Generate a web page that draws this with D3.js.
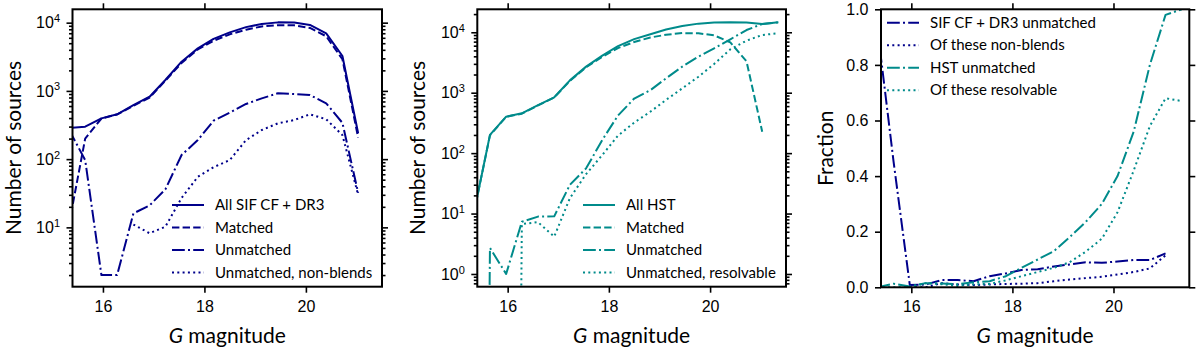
<!DOCTYPE html>
<html>
<head>
<meta charset="utf-8">
<script src="https://cdn.jsdelivr.net/npm/d3@7"></script>
<style>
  body { margin: 0; background: #fff; }
  svg { display: block; font-family: Lato, "Noto Sans", sans-serif; }
</style>
</head>
<body>
<script>
// G magnitude bin centres (shared by all three panels)
const gMag = [15.33, 15.65, 15.97, 16.28, 16.6, 16.92, 17.23, 17.55, 17.87, 18.18,
              18.5, 18.82, 19.13, 19.45, 19.77, 20.08, 20.4, 20.72, 21.03, 21.35];

// left panel: SIF CF + DR3 counts
const sifAll       = [285, 299, 396, 454, 621, 822, 1445, 2680, 4200, 5800, 7200, 8600, 9570, 10100, 10050, 9250, 6980, 3250, 239, null];
const sifMatched   = [11, 200, 394, 452, 605, 800, 1410, 2570, 4050, 5430, 6750, 7900, 8800, 9170, 9150, 8380, 6320, 2910, 207, null];
const sifUnmatched = [270, 97, 2, 2, 16, 21, 36, 115, 190, 366, 480, 643, 778, 923, 900, 870, 658, 340, 32, null];
const sifNonBlend  = [null, null, null, null, 11, 8.2, 10.2, 27, 55, 76, 97, 190, 267, 335, 374, 454, 384, 225, 30, null];

// middle panel: HST counts
const hstAll        = [10, 200, 401, 456, 625, 840, 1600, 2700, 4100, 5900, 7700, 9300, 11100, 12700, 13900, 14500, 14700, 14500, 13700, 14600];
const hstMatched    = [10, 197, 400, 449, 616, 831, 1570, 2640, 3930, 5480, 6900, 8200, 9100, 9700, 9600, 8900, 6800, 3300, 226, null];
const hstUnmatched  = [0, 2.7, 1.0, 7.3, 8.9, 9, 30, 56, 165, 420, 800, 1100, 1730, 2700, 3950, 5430, 7660, 10900, 13700, 14600];
const hstResolvable = [0, 0, 0, 6.7, 7.2, 4.15, 18, 45, 93, 195, 320, 485, 760, 1180, 1840, 2990, 5220, 7260, 9020, 9620];

// right panel: fractions
const fracSifUnmatched  = [0.93, 0.45, 0.008, 0.01, 0.026, 0.026, 0.022, 0.04, 0.05, 0.062, 0.065, 0.075, 0.082, 0.09, 0.088, 0.093, 0.098, 0.098, 0.122, null];
const fracSifNonBlend   = [null, null, 0, 0, 0.015, 0.01, 0.008, 0.01, 0.012, 0.013, 0.015, 0.022, 0.028, 0.033, 0.038, 0.046, 0.055, 0.068, 0.115, null];
const fracHstUnmatched  = [0, 0.013, 0.003, 0.015, 0.014, 0.011, 0.018, 0.022, 0.04, 0.07, 0.10, 0.13, 0.18, 0.235, 0.30, 0.40, 0.56, 0.80, 0.98, 1.0];
const fracHstResolvable = [0, 0, 0, 0.015, 0.011, 0.005, 0.011, 0.012, 0.025, 0.04, 0.055, 0.07, 0.09, 0.128, 0.175, 0.27, 0.42, 0.58, 0.68, 0.67];

const xTicks = [16, 18, 20];
const fracTicks = [0, 0.2, 0.4, 0.6, 0.8, 1.0];

const sifLabels  = ["All SIF CF + DR3", "Matched", "Unmatched", "Unmatched, non-blends"];
const hstLabels  = ["All HST", "Matched", "Unmatched", "Unmatched, resolvable"];
const fracLabels = ["SIF CF + DR3 unmatched", "Of these non-blends", "HST unmatched", "Of these resolvable"];

const width = 1200, height = 351;
const blue = "#00008b", teal = "#008b8b";
const dash = { solid: null, dashed: "7.4,3.2", dashdot: "12.8,3.2,2,3.2", dotted: "2,3.3" };

const svg = d3.select("body").append("svg")
  .attr("width", width)
  .attr("height", height);

const panels = [
  {
    id: "p1", left: 72.5, right: 382, top: 9.3, bottom: 286.7,
    log: true, yDomain: [1.35, 15700], ylabel: "Number of sources", ylabelX: 21,
    series: [
      { values: sifAll, color: blue, style: "solid" },
      { values: sifMatched, color: blue, style: "dashed" },
      { values: sifUnmatched, color: blue, style: "dashdot" },
      { values: sifNonBlend, color: blue, style: "dotted" }
    ],
    legend: { labels: sifLabels, x: 172, y: 205 }
  },
  {
    id: "p2", left: 477.3, right: 786, top: 9.3, bottom: 286.7,
    log: true, yDomain: [0.616, 24000], ylabel: "Number of sources", ylabelX: 424.5,
    series: [
      { values: hstAll, color: teal, style: "solid" },
      { values: hstMatched, color: teal, style: "dashed" },
      { values: hstUnmatched, color: teal, style: "dashdot" },
      { values: hstResolvable, color: teal, style: "dotted" }
    ],
    legend: { labels: hstLabels, x: 583, y: 205 }
  },
  {
    id: "p3", left: 881, right: 1189.3, top: 9.3, bottom: 287.3,
    log: false, yDomain: [0, 1], ylabel: "Fraction", ylabelX: 833,
    series: [
      { values: fracSifUnmatched, color: blue, style: "dashdot" },
      { values: fracSifNonBlend, color: blue, style: "dotted" },
      { values: fracHstUnmatched, color: teal, style: "dashdot" },
      { values: fracHstResolvable, color: teal, style: "dotted" }
    ],
    legend: { labels: fracLabels, x: 887, y: 22.7 }
  }
];

function styleAxis(g) {
  g.select(".domain").remove();
  g.selectAll(".tick line").attr("stroke", "#000").attr("stroke-width", 1.6);
  g.selectAll(".tick text").attr("fill", "#000").attr("font-size", 16);
}

function drawPanel(p) {
  const g = svg.append("g");
  const x = d3.scaleLinear().domain([15.4, 21.5]).range([p.left, p.right]);
  const y = (p.log ? d3.scaleLog() : d3.scaleLinear()).domain(p.yDomain).range([p.bottom, p.top]);

  // ticks: majors and (for log) minors
  let major, minor = [];
  if (p.log) {
    major = d3.range(-1, 6).map(k => 10 ** k).filter(v => v >= p.yDomain[0] && v <= p.yDomain[1]);
    d3.range(-1, 5).forEach(k => d3.range(2, 10).forEach(m => {
      const v = m * 10 ** k;
      if (v >= p.yDomain[0] && v <= p.yDomain[1]) minor.push(v);
    }));
  } else {
    major = fracTicks;
  }

  // x axes (bottom with labels, top ticks only)
  g.append("g")
    .attr("transform", `translate(0,${p.bottom})`)
    .call(d3.axisBottom(x).tickValues(xTicks).tickSize(6).tickPadding(7.5).tickFormat(d3.format("d")))
    .call(styleAxis);
  g.append("g")
    .attr("transform", `translate(0,${p.top})`)
    .call(d3.axisTop(x).tickValues(xTicks).tickSize(6).tickFormat(""))
    .call(styleAxis);

  // y axes, left labelled, right ticks only
  const yl = g.append("g")
    .attr("transform", `translate(${p.left},0)`)
    .call(d3.axisLeft(y).tickValues(major).tickSize(6).tickPadding(6.5)
      .tickFormat(p.log ? d => "" : d3.format(".1f")))
    .call(styleAxis);
  if (p.log) {
    yl.selectAll(".tick text").each(function(d) {
      const t = d3.select(this);
      t.text("10");
      t.append("tspan").attr("dy", "-0.55em").attr("font-size", 11).text(Math.round(Math.log10(d)));
    });
  }
  g.append("g")
    .attr("transform", `translate(${p.right},0)`)
    .call(d3.axisRight(y).tickValues(major).tickSize(6).tickFormat(""))
    .call(styleAxis);
  if (minor.length) {
    g.append("g")
      .attr("transform", `translate(${p.left},0)`)
      .call(d3.axisLeft(y).tickValues(minor).tickSize(3.5).tickFormat(""))
      .call(styleAxis);
    g.append("g")
      .attr("transform", `translate(${p.right},0)`)
      .call(d3.axisRight(y).tickValues(minor).tickSize(3.5).tickFormat(""))
      .call(styleAxis);
  }

  // clip lines to the frame
  svg.append("clipPath").attr("id", "clip-" + p.id)
    .append("rect")
    .attr("x", p.left).attr("y", p.top)
    .attr("width", p.right - p.left).attr("height", p.bottom - p.top);

  // zeros on a log axis go far below the frame, like matplotlib clipping
  const yv = v => p.log ? y(Math.max(v, 1e-30)) : y(v);
  const line = d3.line()
    .defined(d => d[1] !== null)
    .x(d => x(d[0]))
    .y(d => yv(d[1]));

  const lines = g.append("g").attr("clip-path", `url(#clip-${p.id})`);
  p.series.forEach(s => {
    lines.append("path")
      .datum(d3.zip(gMag, s.values))
      .attr("fill", "none")
      .attr("stroke", s.color)
      .attr("stroke-width", 2)
      .attr("stroke-dasharray", dash[s.style])
      .attr("stroke-linejoin", "round")
      .attr("d", line);
  });

  // frame
  g.append("rect")
    .attr("x", p.left).attr("y", p.top)
    .attr("width", p.right - p.left).attr("height", p.bottom - p.top)
    .attr("fill", "none").attr("stroke", "#000").attr("stroke-width", 2);

  // legend
  const lg = g.append("g");
  p.legend.labels.forEach((lab, i) => {
    const s = p.series[i];
    const ly = p.legend.y + i * 22.5;
    lg.append("line")
      .attr("x1", p.legend.x).attr("x2", p.legend.x + 32)
      .attr("y1", ly).attr("y2", ly)
      .attr("stroke", s.color).attr("stroke-width", 2)
      .attr("stroke-dasharray", dash[s.style]);
    lg.append("text")
      .attr("x", p.legend.x + 43).attr("y", ly)
      .attr("dy", "0.35em")
      .attr("font-size", 15)
      .attr("fill", "#000")
      .text(lab);
  });

  // axis titles
  const xl = g.append("text")
    .attr("x", (p.left + p.right) / 2).attr("y", 343)
    .attr("text-anchor", "middle").attr("font-size", 21).attr("fill", "#000");
  xl.append("tspan").attr("font-style", "italic").text("G");
  xl.append("tspan").text(" magnitude");

  g.append("text")
    .attr("transform", `translate(${p.ylabelX},${(p.top + p.bottom) / 2}) rotate(-90)`)
    .attr("text-anchor", "middle").attr("font-size", 21).attr("fill", "#000")
    .text(p.ylabel);
}

panels.forEach(drawPanel);
</script>
</body>
</html>
